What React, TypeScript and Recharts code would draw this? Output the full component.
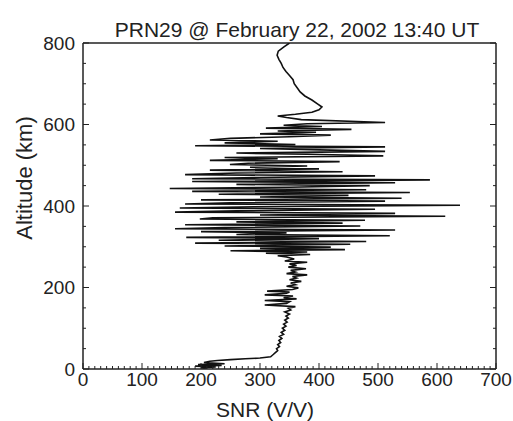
import { ScatterChart, Scatter, XAxis, YAxis } from "recharts";

const title = "PRN29 @ February 22, 2002 13:40 UT";
const xLabel = "SNR (V/V)";
const yLabel = "Altitude (km)";

// x: SNR 0..700, labels every 100, small ticks every 10
const xMajor = [0, 100, 200, 300, 400, 500, 600, 700];
// y: altitude 0..800, labels every 200, small ticks every 50
const yMajor = [0, 200, 400, 600, 800];

// upper part, smooth, 800 -> 612 km
const altTop = [800, 790, 780, 770, 760, 750, 740, 730, 720, 710, 700, 690, 680, 670, 660, 650, 643, 636, 630, 625, 621, 617, 612];
const snrTop = [350, 340, 331, 329, 332, 336, 339, 344, 350, 356, 358, 363, 368, 376, 388, 398, 405, 400, 388, 360, 330, 345, 370];

// scintillating layer, 605 -> 278 km
const altMid = [
  605, 602, 598, 595, 591, 588, 584, 581, 577, 574,
  570, 566, 562, 559, 555, 551, 548, 545, 541, 537,
  534, 530, 527, 523, 519, 516, 512, 509, 505, 502,
  498, 495, 491, 488, 484, 481, 477, 474, 470, 467,
  464, 460, 457, 453, 450, 446, 443, 440, 436, 433,
  429, 426, 422, 419, 415, 412, 408, 405, 402, 398,
  395, 392, 388, 385, 382, 378, 375, 371, 368, 365,
  361, 358, 354, 351, 347, 344, 341, 337, 334, 330,
  327, 323, 320, 316, 313, 309, 306, 302, 299, 296,
  293, 290, 287, 284, 281, 278,
];
const snrMid = [
  512, 380, 340, 405, 310, 455, 330, 395, 300, 420,
  350, 250, 215, 330, 240, 360, 190, 512, 300, 420,
  512, 260, 380, 509, 240, 330, 215, 435, 280, 249,
  380, 283, 400, 215, 440, 260, 173, 495, 300, 185,
  588, 185, 529, 260, 486, 350, 147, 480, 185, 554,
  230, 450, 300, 540, 200, 512, 250, 173, 639, 290,
  164, 495, 260, 156, 529, 300, 614, 220, 198, 478,
  260, 440, 173, 470, 240, 156, 529, 200, 345, 260,
  520, 175, 400, 230, 480, 190, 453, 240, 420, 300,
  444, 250, 380, 310, 385, 330,
];

// lower part, 275 -> 1 km
const altBot = [
  275, 270, 265, 262, 258, 254, 250, 246, 242, 238,
  234, 231, 227, 223, 219, 215, 211, 207, 203, 199,
  195, 191, 189, 186, 182, 179, 175, 172, 168, 165,
  161, 157, 153, 149, 145, 140, 135, 130, 125, 120,
  115, 110, 105, 100, 95, 90, 85, 80, 75, 70,
  65, 60, 55, 50, 45, 40, 35, 30, 27, 25,
  23, 21, 19, 16, 13, 11, 9, 7, 5, 3,
  1,
];
const snrBot = [
  345, 358, 342, 380, 350, 362, 348, 378, 352, 360,
  345, 380, 355, 362, 350, 370, 352, 360, 345, 365,
  355, 312, 350, 345, 308, 356, 340, 362, 308, 350,
  345, 308, 360, 348, 352, 342, 350, 344, 348, 342,
  346, 340, 344, 338, 342, 336, 340, 333, 337, 332,
  335, 330, 333, 328, 330, 326, 322, 318, 300, 275,
  250, 228, 215, 205, 240, 195, 235, 190, 225, 200,
  210,
];

const alt = [...altTop, ...altMid, ...altBot];
const snr = [...snrTop, ...snrMid, ...snrBot];
const data = alt.map((a, i) => ({ alt: a, snr: snr[i] }));

const xTicks = Array.from({ length: 71 }, (_, i) => i * 10);
const yTicks = Array.from({ length: 17 }, (_, i) => i * 50);

const INK = "#222";

function XTick(props: any) {
  const { x, y, payload, top } = props;
  const v = payload.value;
  const major = xMajor.includes(v);
  const len = major ? 6 : 3;
  const dir = top ? 1 : -1;
  return (
    <g>
      <line x1={x} x2={x} y1={y} y2={y + dir * len} stroke={INK} strokeWidth={1} />
      {!top && major && (
        <text x={x} y={y + 17} textAnchor="middle" fontSize={19} fill={INK}>
          {v}
        </text>
      )}
    </g>
  );
}

function YTick(props: any) {
  const { x, y, payload, right } = props;
  const v = payload.value;
  const major = yMajor.includes(v);
  const len = major ? 6 : 3;
  const dir = right ? -1 : 1;
  return (
    <g>
      <line x1={x} x2={x + dir * len} y1={y} y2={y} stroke={INK} strokeWidth={1} />
      {!right && major && (
        <text x={x - 8} y={y} dy="0.35em" textAnchor="end" fontSize={19} fill={INK}>
          {v}
        </text>
      )}
    </g>
  );
}

export default function App() {
  return (
    <div
      style={{
        position: "relative",
        width: 513,
        height: 421,
        background: "#fff",
        fontFamily: "'Liberation Sans', Arial, sans-serif",
      }}
    >
      <style>{"body{margin:0}"}</style>
      <div
        style={{
          position: "absolute",
          left: 90,
          width: 414,
          top: 18,
          textAlign: "center",
          fontSize: 21,
          color: INK,
          whiteSpace: "nowrap",
        }}
      >
        {title}
      </div>
      <ScatterChart width={513} height={421} margin={{ top: 33, right: 7, bottom: 22, left: 23 }}>
        <XAxis
          type="number"
          dataKey="snr"
          domain={[0, 700]}
          ticks={xTicks}
          interval={0}
          height={30}
          tickSize={0}
          tickMargin={0}
          tickLine={false}
          axisLine={{ stroke: INK, strokeWidth: 1.5 }}
          tick={<XTick />}
          allowDataOverflow
          label={{
            content: () => (
              <text x={265} y={417} textAnchor="middle" fontSize={21} fill={INK}>
                {xLabel}
              </text>
            ),
          }}
        />
        <XAxis
          xAxisId="top"
          orientation="top"
          type="number"
          domain={[0, 700]}
          ticks={xTicks}
          interval={0}
          height={10}
          tickSize={0}
          tickMargin={0}
          tickLine={false}
          axisLine={{ stroke: INK, strokeWidth: 1.5 }}
          tick={<XTick top />}
          allowDataOverflow
        />
        <YAxis
          type="number"
          dataKey="alt"
          domain={[0, 800]}
          ticks={yTicks}
          interval={0}
          width={60}
          tickSize={0}
          tickMargin={0}
          tickLine={false}
          axisLine={{ stroke: INK, strokeWidth: 1.5 }}
          tick={<YTick />}
          allowDataOverflow
          label={{
            content: () => (
              <text
                x={24}
                y={178}
                transform="rotate(-90 24 178)"
                dy="0.35em"
                textAnchor="middle"
                fontSize={22}
                fill={INK}
              >
                {yLabel}
              </text>
            ),
          }}
        />
        <YAxis
          yAxisId="right"
          orientation="right"
          type="number"
          domain={[0, 800]}
          ticks={yTicks}
          interval={0}
          width={10}
          tickSize={0}
          tickMargin={0}
          tickLine={false}
          axisLine={{ stroke: INK, strokeWidth: 1.5 }}
          tick={<YTick right />}
          allowDataOverflow
        />
        <Scatter
          data={data}
          line={{ stroke: "#111", strokeWidth: 1.6 }}
          lineType="joint"
          shape={() => <g />}
          isAnimationActive={false}
        />
      </ScatterChart>
    </div>
  );
}
